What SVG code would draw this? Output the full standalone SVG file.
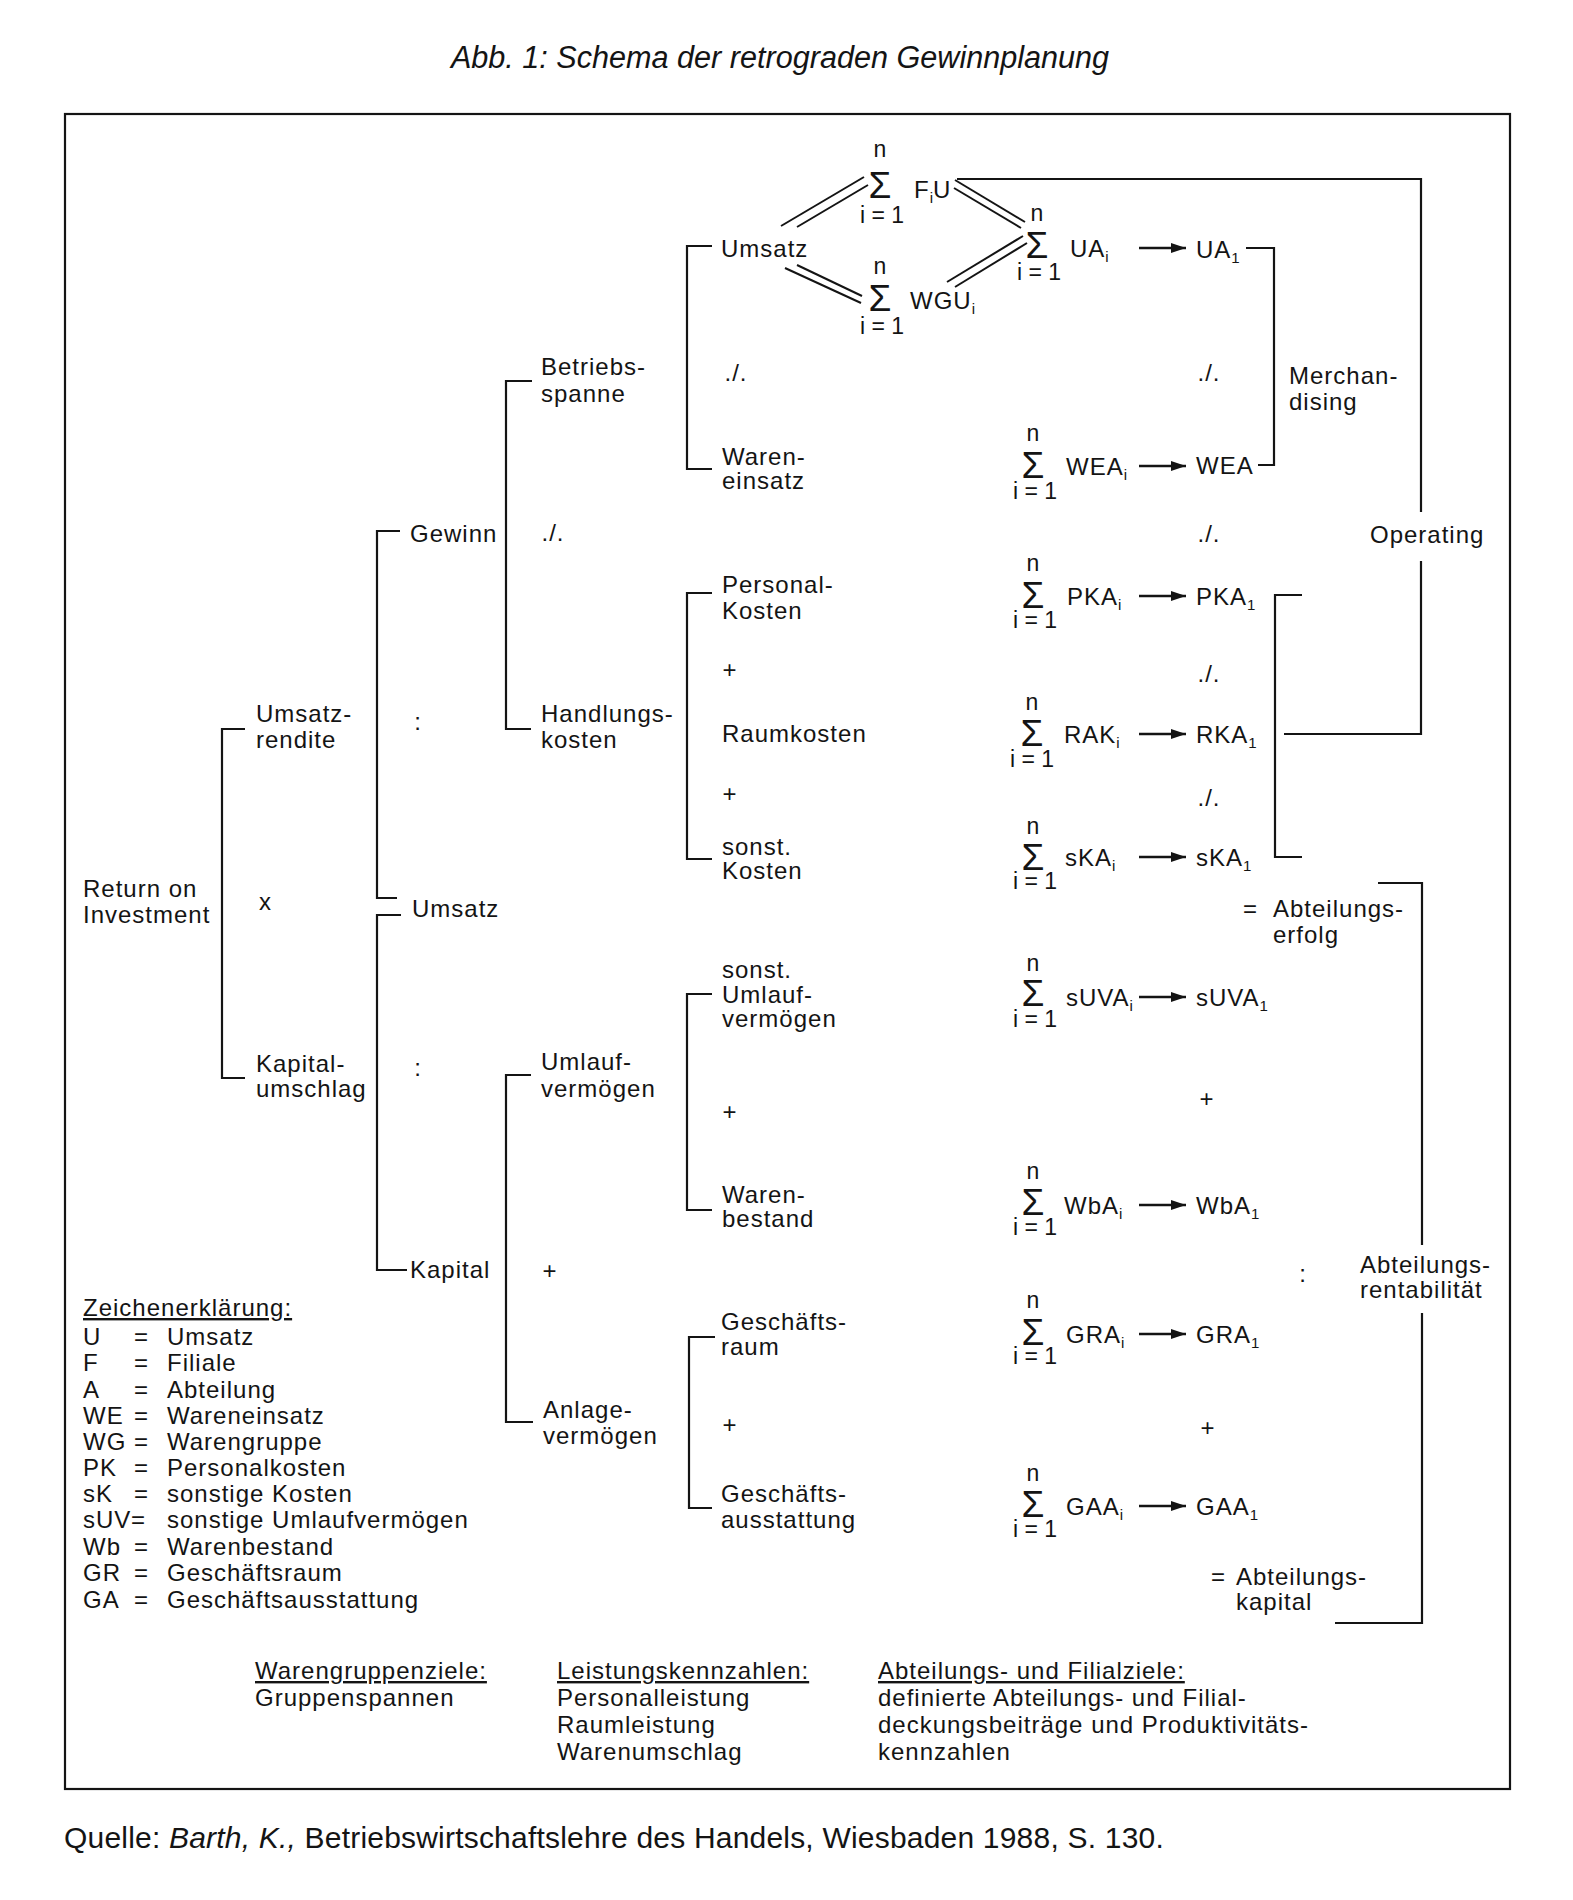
<svg xmlns="http://www.w3.org/2000/svg" width="1573" height="1900" viewBox="0 0 1573 1900">
<defs>
<style>
text { font-family: "Liberation Sans", Arial, Helvetica, sans-serif; fill: #141414; }
.t { font-size: 24px; letter-spacing: 1px; }
.sm { font-size: 23px; text-anchor: middle; }
.sig { font-size: 37px; text-anchor: middle; }
.sub { font-size: 15px; letter-spacing: 0; }
.mid { text-anchor: middle; }
.ln { stroke: #141414; stroke-width: 2.2; fill: none; }
.dl { stroke: #141414; stroke-width: 2; fill: none; }
.ar { stroke: #141414; stroke-width: 2.6; fill: none; marker-end: url(#ah); }
.ul { text-decoration: underline; }
</style>
<marker id="ah" markerUnits="userSpaceOnUse" markerWidth="16" markerHeight="12" refX="15" refY="6" orient="auto"><path d="M0,1 L15,6 L0,11 z" fill="#141414"/></marker>
</defs>
<rect width="1573" height="1900" fill="#ffffff"/>

<g id="title">
<text x="780" y="68" text-anchor="middle" font-style="italic" font-size="30.6">Abb. 1: Schema der retrograden Gewinnplanung</text>
</g>
<rect id="frame" x="65" y="114" width="1445" height="1675" class="ln"/>

<g id="connectors">
<path class="ln" d="M245,729 H222 V1078 H245"/>
<path class="ln" d="M400,531 H377 V898 H397"/>
<path class="ln" d="M401,915 H377 V1270 H407"/>
<path class="ln" d="M532,381 H506 V729 H531"/>
<path class="ln" d="M531,1075 H506 V1422 H533"/>
<path class="ln" d="M712,246 H687 V469 H712"/>
<path class="ln" d="M712,593 H687 V859 H712"/>
<path class="ln" d="M712,994 H687 V1210 H712"/>
<path class="ln" d="M715,1337 H689 V1508 H712"/>
<path class="ln" d="M1246,248 H1274 V465 H1258"/>
<path class="ln" d="M957,179 H1421 V512"/>
<path class="ln" d="M1421,561 V734 H1284"/>
<path class="ln" d="M1302,595 H1275 V857 H1302"/>
<path class="ln" d="M1378,883 H1422 V1245"/>
<path class="ln" d="M1422,1313 V1623 H1335"/>
<line class="dl" x1="781" y1="226" x2="864" y2="177"/>
<line class="dl" x1="797" y1="227" x2="868" y2="185"/>
<line class="dl" x1="955" y1="180" x2="1025" y2="222"/>
<line class="dl" x1="954" y1="188" x2="1021" y2="228"/>
<line class="dl" x1="785" y1="268" x2="861" y2="303"/>
<line class="dl" x1="797" y1="265" x2="862" y2="296"/>
<line class="dl" x1="947" y1="282" x2="1023" y2="236"/>
<line class="dl" x1="955" y1="287" x2="1027" y2="243"/>
<line class="ar" x1="1139" y1="248" x2="1186" y2="248"/>
<line class="ar" x1="1139" y1="466" x2="1186" y2="466"/>
<line class="ar" x1="1139" y1="596" x2="1186" y2="596"/>
<line class="ar" x1="1139" y1="734" x2="1186" y2="734"/>
<line class="ar" x1="1139" y1="857" x2="1186" y2="857"/>
<line class="ar" x1="1139" y1="997" x2="1186" y2="997"/>
<line class="ar" x1="1139" y1="1205" x2="1186" y2="1205"/>
<line class="ar" x1="1139" y1="1334" x2="1186" y2="1334"/>
<line class="ar" x1="1139" y1="1506" x2="1186" y2="1506"/>
</g>

<g id="n-roi"><text class="t" x="83" y="897">Return on<tspan x="83" dy="26">Investment</tspan></text></g>
<g id="n-umsatzrendite"><text class="t" x="256" y="722">Umsatz-<tspan x="256" dy="26">rendite</tspan></text></g>
<g id="op-x"><text class="t" x="259" y="910">x</text></g>
<g id="n-kapitalumschlag"><text class="t" x="256" y="1072">Kapital-<tspan x="256" dy="25">umschlag</tspan></text></g>
<g id="op-div1"><text class="t mid" x="418" y="730">:</text></g>
<g id="op-div2"><text class="t mid" x="418" y="1076">:</text></g>
<g id="n-gewinn"><text class="t" x="410" y="542">Gewinn</text></g>
<g id="n-umsatz-mid"><text class="t" x="412" y="917">Umsatz</text></g>
<g id="n-kapital"><text class="t" x="410" y="1278">Kapital</text></g>
<g id="n-betriebsspanne"><text class="t" x="541" y="375">Betriebs-<tspan x="541" dy="27">spanne</tspan></text></g>
<g id="op-minus-gewinn"><text class="t mid" x="553" y="541">./.</text></g>
<g id="n-handlungskosten"><text class="t" x="541" y="722">Handlungs-<tspan x="541" dy="26">kosten</tspan></text></g>
<g id="n-umlaufvermoegen"><text class="t" x="541" y="1070">Umlauf-<tspan x="541" dy="27">vermögen</tspan></text></g>
<g id="op-plus-kapital"><text class="t mid" x="550" y="1279">+</text></g>
<g id="n-anlagevermoegen"><text class="t" x="543" y="1418">Anlage-<tspan x="543" dy="26">vermögen</tspan></text></g>

<g id="n-umsatz-top"><text class="t" x="721" y="257">Umsatz</text></g>
<g id="op-minus-l1"><text class="t mid" x="736" y="381">./.</text></g>
<g id="n-wareneinsatz"><text class="t" x="722" y="465">Waren-<tspan x="722" dy="24">einsatz</tspan></text></g>
<g id="n-personalkosten"><text class="t" x="722" y="593">Personal-<tspan x="722" dy="26">Kosten</tspan></text></g>
<g id="op-plus-l1"><text class="t mid" x="730" y="678">+</text></g>
<g id="n-raumkosten"><text class="t" x="722" y="742">Raumkosten</text></g>
<g id="op-plus-l2"><text class="t mid" x="730" y="802">+</text></g>
<g id="n-sonstkosten"><text class="t" x="722" y="855">sonst.<tspan x="722" dy="24">Kosten</tspan></text></g>
<g id="n-sonstuv"><text class="t" x="722" y="978">sonst.<tspan x="722" dy="25">Umlauf-</tspan><tspan x="722" dy="24">vermögen</tspan></text></g>
<g id="op-plus-l3"><text class="t mid" x="730" y="1120">+</text></g>
<g id="n-warenbestand"><text class="t" x="722" y="1203">Waren-<tspan x="722" dy="24">bestand</tspan></text></g>
<g id="n-geschaeftsraum"><text class="t" x="721" y="1330">Geschäfts-<tspan x="721" dy="25">raum</tspan></text></g>
<g id="op-plus-l4"><text class="t mid" x="730" y="1433">+</text></g>
<g id="n-geschaeftsausstattung"><text class="t" x="721" y="1502">Geschäfts-<tspan x="721" dy="26">ausstattung</tspan></text></g>

<g id="n-sum-fiu"><text class="sm" x="880" y="157">n</text><text class="sig" x="880" y="198">Σ</text><text class="sm" x="882" y="223">i = 1</text><text class="t" x="914" y="198">F<tspan class="sub" dy="5">i</tspan><tspan dy="-5">U</tspan></text></g>
<g id="n-sum-wgu"><text class="sm" x="880" y="274">n</text><text class="sig" x="880" y="311">Σ</text><text class="sm" x="882" y="334">i = 1</text><text class="t" x="910" y="309">WGU<tspan class="sub" dy="5">i</tspan></text></g>
<g id="n-sum-ua"><text class="sm" x="1037" y="221">n</text><text class="sig" x="1037" y="258">Σ</text><text class="sm" x="1039" y="280">i = 1</text><text class="t" x="1070" y="257">UA<tspan class="sub" dy="5">i</tspan></text></g>
<g id="n-sum-wea"><text class="sm" x="1033" y="441">n</text><text class="sig" x="1033" y="478">Σ</text><text class="sm" x="1035" y="499">i = 1</text><text class="t" x="1066" y="475">WEA<tspan class="sub" dy="5">i</tspan></text></g>
<g id="n-sum-pka"><text class="sm" x="1033" y="571">n</text><text class="sig" x="1033" y="608">Σ</text><text class="sm" x="1035" y="628">i = 1</text><text class="t" x="1067" y="605">PKA<tspan class="sub" dy="5">i</tspan></text></g>
<g id="n-sum-rak"><text class="sm" x="1032" y="710">n</text><text class="sig" x="1032" y="746">Σ</text><text class="sm" x="1032" y="767">i = 1</text><text class="t" x="1064" y="743">RAK<tspan class="sub" dy="5">i</tspan></text></g>
<g id="n-sum-ska"><text class="sm" x="1033" y="834">n</text><text class="sig" x="1033" y="870">Σ</text><text class="sm" x="1035" y="889">i = 1</text><text class="t" x="1065" y="866">sKA<tspan class="sub" dy="5">i</tspan></text></g>
<g id="n-sum-suva"><text class="sm" x="1033" y="971">n</text><text class="sig" x="1033" y="1006">Σ</text><text class="sm" x="1035" y="1027">i = 1</text><text class="t" x="1066" y="1006">sUVA<tspan class="sub" dy="5">i</tspan></text></g>
<g id="n-sum-wba"><text class="sm" x="1033" y="1179">n</text><text class="sig" x="1033" y="1215">Σ</text><text class="sm" x="1035" y="1235">i = 1</text><text class="t" x="1064" y="1214">WbA<tspan class="sub" dy="5">i</tspan></text></g>
<g id="n-sum-gra"><text class="sm" x="1033" y="1308">n</text><text class="sig" x="1033" y="1345">Σ</text><text class="sm" x="1035" y="1364">i = 1</text><text class="t" x="1066" y="1343">GRA<tspan class="sub" dy="5">i</tspan></text></g>
<g id="n-sum-gaa"><text class="sm" x="1033" y="1481">n</text><text class="sig" x="1033" y="1517">Σ</text><text class="sm" x="1035" y="1537">i = 1</text><text class="t" x="1066" y="1515">GAA<tspan class="sub" dy="5">i</tspan></text></g>

<g id="n-ua1"><text class="t" x="1196" y="258">UA<tspan class="sub" dy="5">1</tspan></text></g>
<g id="op-minus-r1"><text class="t mid" x="1209" y="381">./.</text></g>
<g id="n-wea"><text class="t" x="1196" y="474">WEA</text></g>
<g id="op-minus-r2"><text class="t mid" x="1209" y="542">./.</text></g>
<g id="n-pka1"><text class="t" x="1196" y="605">PKA<tspan class="sub" dy="5">1</tspan></text></g>
<g id="op-minus-r3"><text class="t mid" x="1209" y="682">./.</text></g>
<g id="n-rka1"><text class="t" x="1196" y="743">RKA<tspan class="sub" dy="5">1</tspan></text></g>
<g id="op-minus-r4"><text class="t mid" x="1209" y="806">./.</text></g>
<g id="n-ska1"><text class="t" x="1196" y="866">sKA<tspan class="sub" dy="5">1</tspan></text></g>
<g id="n-suva1"><text class="t" x="1196" y="1006">sUVA<tspan class="sub" dy="5">1</tspan></text></g>
<g id="op-plus-r1"><text class="t mid" x="1207" y="1107">+</text></g>
<g id="n-wba1"><text class="t" x="1196" y="1214">WbA<tspan class="sub" dy="5">1</tspan></text></g>
<g id="n-gra1"><text class="t" x="1196" y="1343">GRA<tspan class="sub" dy="5">1</tspan></text></g>
<g id="op-plus-r2"><text class="t mid" x="1208" y="1436">+</text></g>
<g id="n-gaa1"><text class="t" x="1196" y="1515">GAA<tspan class="sub" dy="5">1</tspan></text></g>

<g id="n-merchandising"><text class="t" x="1289" y="384">Merchan-<tspan x="1289" dy="26">dising</tspan></text></g>
<g id="n-operating"><text class="t" x="1370" y="543">Operating</text></g>
<g id="n-abteilungserfolg"><text class="t" x="1243" y="917">=</text><text class="t" x="1273" y="917">Abteilungs-<tspan x="1273" dy="26">erfolg</tspan></text></g>
<g id="op-div3"><text class="t mid" x="1303" y="1282">:</text></g>
<g id="n-abteilungsrentabilitaet"><text class="t" x="1360" y="1273">Abteilungs-<tspan x="1360" dy="25">rentabilität</tspan></text></g>
<g id="n-abteilungskapital"><text class="t" x="1211" y="1585">=</text><text class="t" x="1236" y="1585">Abteilungs-<tspan x="1236" dy="25">kapital</tspan></text></g>

<g id="legend">
<text class="t ul" x="83" y="1316">Zeichenerklärung:</text>
<text class="t" x="83" y="1345">U</text><text class="t" x="134" y="1345">=</text><text class="t" x="167" y="1345">Umsatz</text>
<text class="t" x="83" y="1371">F</text><text class="t" x="134" y="1371">=</text><text class="t" x="167" y="1371">Filiale</text>
<text class="t" x="83" y="1398">A</text><text class="t" x="134" y="1398">=</text><text class="t" x="167" y="1398">Abteilung</text>
<text class="t" x="83" y="1424">WE</text><text class="t" x="134" y="1424">=</text><text class="t" x="167" y="1424">Wareneinsatz</text>
<text class="t" x="83" y="1450">WG</text><text class="t" x="134" y="1450">=</text><text class="t" x="167" y="1450">Warengruppe</text>
<text class="t" x="83" y="1476">PK</text><text class="t" x="134" y="1476">=</text><text class="t" x="167" y="1476">Personalkosten</text>
<text class="t" x="83" y="1502">sK</text><text class="t" x="134" y="1502">=</text><text class="t" x="167" y="1502">sonstige Kosten</text>
<text class="t" x="83" y="1528">sUV</text><text class="t" x="131" y="1528">=</text><text class="t" x="167" y="1528">sonstige Umlaufvermögen</text>
<text class="t" x="83" y="1555">Wb</text><text class="t" x="134" y="1555">=</text><text class="t" x="167" y="1555">Warenbestand</text>
<text class="t" x="83" y="1581">GR</text><text class="t" x="134" y="1581">=</text><text class="t" x="167" y="1581">Geschäftsraum</text>
<text class="t" x="83" y="1608">GA</text><text class="t" x="134" y="1608">=</text><text class="t" x="167" y="1608">Geschäftsausstattung</text>
</g>

<g id="goals">
<text class="t ul" x="255" y="1679">Warengruppenziele:</text>
<text class="t" x="255" y="1706">Gruppenspannen</text>
<text class="t ul" x="557" y="1679">Leistungskennzahlen:</text>
<text class="t" x="557" y="1706">Personalleistung</text>
<text class="t" x="557" y="1733">Raumleistung</text>
<text class="t" x="557" y="1760">Warenumschlag</text>
<text class="t ul" x="878" y="1679">Abteilungs- und Filialziele:</text>
<text class="t" x="878" y="1706">definierte Abteilungs- und Filial-</text>
<text class="t" x="878" y="1733">deckungsbeiträge und Produktivitäts-</text>
<text class="t" x="878" y="1760">kennzahlen</text>
</g>

<g id="source">
<text x="64" y="1848" font-size="30" letter-spacing="0.2">Quelle: <tspan font-style="italic">Barth, K.,</tspan> Betriebswirtschaftslehre des Handels, Wiesbaden 1988, S. 130.</text>
</g>
</svg>
